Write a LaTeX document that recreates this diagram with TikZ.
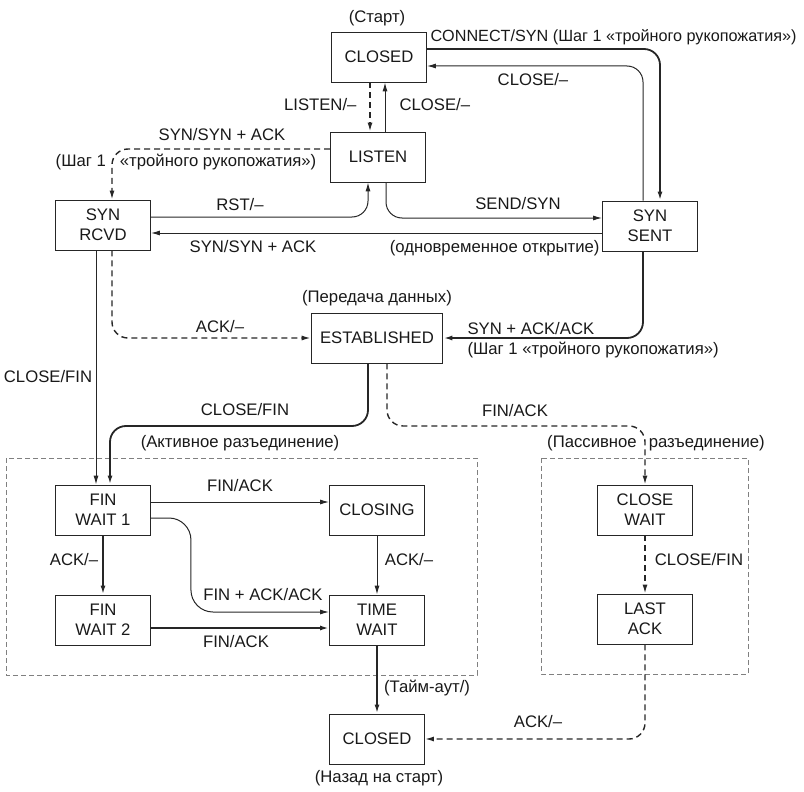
\documentclass[tikz,border=0pt]{standalone}
\usepackage{fontspec}
\setmainfont{Liberation Sans}
\usetikzlibrary{arrows.meta}

\begin{document}
\begin{tikzpicture}[x=1pt,y=-1pt,
  every node/.style={font=\fontsize{16.7}{20}\selectfont,text=black!90},
  stbox/.style={draw=black!85,line width=0.9pt,minimum width=95pt,minimum height=50pt,inner xsep=9pt,align=center},
  lnthin/.style={draw=black!85,line width=1pt,-{Latex[length=9pt,width=5pt]},rounded corners=16pt},
  lnthick/.style={lnthin,line width=1.8pt},
  lndash/.style={lnthin,line width=1.4pt,dash pattern=on 6pt off 4pt},
  frame/.style={draw=black!50,line width=1pt,dash pattern=on 5pt off 3pt}]
\useasboundingbox (0,0) rectangle (804,792);
\draw[frame] (6,458) rectangle (477,675);
\draw[frame] (541,458) rectangle (748,674);
\foreach \n/\x/\y/\t in {closedA/379/57/CLOSED, listen/378/157/LISTEN, synrcvd/103/225/SYN\\RCVD,
  synsent/650/226/SYN\\SENT, established/377/338/ESTABLISHED, finwaitA/103/510/FIN\\WAIT 1,
  closing/377/510/CLOSING, finwaitB/103/620/FIN\\WAIT 2, timewait/377/620/TIME\\WAIT,
  closewait/645/510/CLOSE\\WAIT, lastack/645/619/LAST\\ACK, closedB/377/739/CLOSED}{
	\node[stbox] (\n) at (\x,\y) {\t};
}
\coordinate (splitY) at (0,426);
\draw[lnthick] ([yshift=8pt]closedA.east) -| ([xshift=10pt]synsent.north);
\draw[lnthin] ([xshift=-7pt]synsent.north) |- ([yshift=-9pt]closedA.east);
\draw[lndash] ([xshift=-9pt]closedA.south) -- ([xshift=-8pt]listen.north);
\draw[lnthin] ([xshift=7pt]listen.north) -- ([xshift=6pt]closedA.south);
\draw[lndash] ([yshift=8pt]listen.west) -| ([xshift=9pt]synrcvd.north);
\draw[lnthin] ([yshift=8pt]synrcvd.east) -| ([xshift=-10pt]listen.south);
\draw[lnthin] ([xshift=8pt]listen.south) |- ([yshift=8pt]synsent.west);
\draw[lnthin] ([yshift=-7pt]synsent.west) -- ([yshift=-7pt]synsent.west -| synrcvd.east);
\draw[lndash] ([xshift=9pt]synrcvd.south) |- (established.west);
\draw[lnthick] ([xshift=-7pt]synsent.south) |- (established.east);
\draw[lnthin] ([xshift=-7pt]synrcvd.south) -- ([xshift=-7pt]finwaitA.north);
\draw[lnthick] ([xshift=-9pt]established.south) |- ([xshift=7pt]finwaitA.north |- splitY) -- ([xshift=7pt]finwaitA.north);
\draw[lndash] ([xshift=10pt]established.south) |- (closewait.north |- splitY) -- (closewait.north);
\draw[lnthin] ([yshift=8pt]finwaitA.east) -- ([yshift=8pt]closing.west);
\draw[lnthin,rounded corners=22pt] ([yshift=-8pt]finwaitA.east) -- ++(40,0) |- ([yshift=8pt]timewait.west);
\draw[lnthick] (finwaitA.south) -- (finwaitB.north);
\draw[lnthin] (closing.south) -- (timewait.north);
\draw[lnthick] ([yshift=-8pt]finwaitB.east) -- ([yshift=-8pt]timewait.west);
\draw[lnthick] (timewait.south) -- (closedB.north);
\draw[lndash] (closewait.south) -- (lastack.north);
\draw[lndash] (lastack.south) |- (closedB.east);
\node (start) at (377,18) {(Старт)};
\node[anchor=west,font=\fontsize{16.2}{20}\selectfont] (connectlbl) at (427,37) {CONNECT/SYN (Шаг 1 «тройного рукопожатия»)};
\node (closelblA) at (533,80) {CLOSE/–};
\node[anchor=east] (listenlbl) at (360,105) {LISTEN/–};
\node[anchor=west] (closelblB) at (396,105) {CLOSE/–};
\node (synacklblA) at (222,135) {SYN/SYN + ACK};
\node (steplblA) at (186,162) {(Шаг 1\hspace{14pt}«тройного рукопожатия»)};
\node (rstlbl) at (240,205) {RST/–};
\node (sendlbl) at (518,204) {SEND/SYN};
\node (synacklblB) at (253,247) {SYN/SYN + ACK};
\node[anchor=east] (simlbl) at (603,248) {(одновременное открытие)};
\node (datalbl) at (377,298) {(Передача данных)};
\node (acklblA) at (220,327) {ACK/–};
\node[anchor=west] (synacklblC) at (464,329) {SYN + ACK/ACK};
\node[anchor=west] (steplblB) at (464,350) {(Шаг 1 «тройного рукопожатия»)};
\node (closefinA) at (48,377) {CLOSE/FIN};
\node (closefinB) at (245,410) {CLOSE/FIN};
\node (finackA) at (515,411) {FIN/ACK};
\node (activelbl) at (240,443) {(Активное разъединение)};
\node (passivelbl) at (656,443) {(Пассивное\hspace{12pt}разъединение)};
\node (finackB) at (240,486) {FIN/ACK};
\node (acklblB) at (74,560) {ACK/–};
\node (acklblC) at (409,560) {ACK/–};
\node (finacklbl) at (263,595) {FIN + ACK/ACK};
\node (finackC) at (236,642) {FIN/ACK};
\node (timeoutlbl) at (427,688) {(Тайм-аут/)};
\node (closefinC) at (699,560) {CLOSE/FIN};
\node (acklblD) at (538,722) {ACK/–};
\node (backlbl) at (379,778) {(Назад на старт)};
\end{tikzpicture}
\end{document}
